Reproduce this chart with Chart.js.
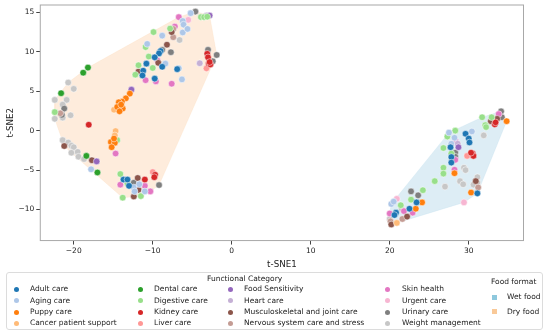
<!DOCTYPE html>
<html>
<head>
<meta charset="utf-8">
<script src="https://cdn.jsdelivr.net/npm/chart.js@4.4.1/dist/chart.umd.min.js"></script>
<style>
  html, body { margin: 0; padding: 0; background: #fff; }
  #wrap { position: relative; width: 550px; height: 333px; font-family: "DejaVu Sans", sans-serif; }
  #chart { position: absolute; left: 0; top: 0; }
  #legend {
    position: absolute; left: 6px; top: 272px; width: 537px; height: 58px;
    border: 1px solid #dcdcdc; border-radius: 3px; box-sizing: border-box;
    font-size: 7.5px; color: #222;
  }
  .ttl { position: absolute; white-space: nowrap; }
  .item { position: absolute; white-space: nowrap; line-height: 10px; }
  .dot { position: absolute; width: 5px; height: 5px; border-radius: 50%; box-shadow: 0 0 0 0.6px #fff; }
  .sq { position: absolute; width: 5px; height: 5px; }
</style>
</head>
<body>
<div id="wrap">
  <canvas id="chart" width="550" height="333"></canvas>
  <div id="legend"></div>
</div>
<script>
// ===========================
// DATOS
// ===========================
const categories = [
  "Adult care", "Aging care", "Puppy care", "Cancer patient support",
  "Dental care", "Digestive care", "Kidney care", "Liver care",
  "Food Sensitivity", "Heart care", "Musculoskeletal and joint care", "Nervous system care and stress",
  "Skin health", "Urgent care", "Urinary care", "Weight management"
];
const colors = [
  "#1f77b4", "#aec7e8", "#ff7f0e", "#ffbb78",
  "#2ca02c", "#98df8a", "#d62728", "#ff9896",
  "#9467bd", "#c5b0d5", "#8c564b", "#c49c94",
  "#e377c2", "#f7b6d2", "#7f7f7f", "#c7c7c7"
];
const formats = ["Wet food", "Dry food"];
const formatColors = ["#8ec8dd", "#f9c998"];
const hullColors = ["rgba(180,215,232,0.45)", "rgba(252,213,178,0.45)"];

const xTicks = [-20, -10, 0, 10, 20, 30];
const yTicks = [-10, -5, 0, 5, 10, 15];

// puntos t-SNE por categoría [x, y]
const adultCare = [[-9.0,10.1],[-9.2,9.8],[-9.75,9.3],[-10.8,8.5],[-8.8,8.1],[-11.2,7.6],[-11.3,7.0],[-9.75,6.6],[-6.9,7.8],
  [-13.7,-6.2],[-13.2,-6.2],[-13.0,-7.0],
  [29.6,-0.4],[30.0,-1.0],[30.1,-1.5],[27.7,-2.1],[27.8,-3.35],[27.8,-4.05],[31.1,-7.95],[23.4,-9.1],[22.5,-9.9],[20.8,-10.4],[20.6,-10.7]];
const agingCare = [[-5.2,14.9],[-6.2,13.9],[-6.1,13.45],[-6.2,12.45],[-5.6,12.9],[-8.8,12.05],[-10.7,11.0],[-8.4,8.5],[-6.7,7.9],[-6.3,6.5],
  [-12.4,-7.2],[-12.3,-7.7],[-11.0,-7.7],[-17.8,-4.9],[-11.7,-6.8],
  [27.5,-0.25],[28.2,-0.9],[27.8,-1.65],[20.2,-9.3],[20.5,-9.0],[30.4,-0.1]];
const puppyCare = [[-12.9,4.7],[-13.4,4.1],[-13.9,3.7],[-14.3,3.6],[-14.1,3.1],[-14.5,3.0],[-13.8,2.8],[-14.2,2.45],[-14.0,3.3],
  [-15.3,-1.45],[-14.8,-1.55],[-15.2,-2.1],[-14.9,-1.0],
  [34.8,1.2],[28.2,-5.4],[30.3,-7.85],[24.1,-9.1],[23.3,-9.9]];
const cancerSupport = [[-14.9,2.65],[-14.7,-0.05],[-14.8,-0.6],[20.9,-11.7]];
const dentalCare = [[-18.2,8.0],[-18.8,7.35],[-21.6,4.75],[-18.4,-3.2],[-17.0,-5.3]];
const digestiveCare = [[-3.9,14.4],[-3.5,14.4],[-3.1,14.45],[-7.8,12.95],[-9.9,12.5],[-10.9,10.6],[-10.5,9.4],[-11.8,8.3],[-10.0,7.95],[-12.2,7.1],
  [-22.4,2.35],[-14.5,-1.2],[-14.1,-5.5],[-13.2,-6.7],[-13.8,-8.5],[-11.5,-8.3],
  [31.7,1.7],[32.9,1.7],[32.1,0.7],[32.2,0.45],[28.3,0.0],[27.3,-0.75],[26.8,-2.2],[27.8,-2.9],[26.8,-4.7],[26.8,-5.45],[25.7,-6.4],[24.2,-7.55],[22.7,-8.75],[21.4,-9.45]];
const kidneyCare = [[-3.1,9.75],[-3.0,9.3],[-2.9,8.5],[-2.7,8.4],[-2.8,8.7],[-18.1,0.75],[-11.0,-6.2],[-9.7,-5.6],[-9.8,-5.9],
  [33.3,0.8],[33.4,1.05],[30.5,-2.9],[30.6,-3.2],[30.3,-2.8]];
const liverCare = [[-3.2,7.9],[-10.0,-5.25],[29.8,-3.2]];
const foodSensitivity = [[-2.8,14.6],[-12.7,5.2],[-17.1,-3.9],[28.7,-2.1]];
const heartCare = [[-4.05,8.55],[-3.2,14.6],[28.6,-1.65]];
const musculoskeletal = [[-7.6,12.5],[-8.2,10.9],[-9.3,8.6],[-11.8,7.5],[-17.7,-3.75],[-11.9,-6.0],[-11.8,-7.5],[-12.4,-8.35],[-21.2,-1.95],
  [33.6,1.5],[32.8,1.2],[30.9,-6.4],[20.2,-11.9],[22.2,-10.9]];
const nervousSystem = [[-7.4,12.9],[-7.4,11.85],[-21.7,2.2],[31.2,-7.2],[20.1,-11.5],[21.6,-11.2]];
const skinHealth = [[-6.7,14.4],[-7.2,13.2],[-9.4,8.9],[-10.9,6.4],[-9.6,6.25],[-7.6,5.95],[-14.7,-2.9],[-14.1,-6.85],[-11.0,-7.0],[-10.3,-7.7],
  [33.8,2.1],[28.3,-1.3],[28.3,-3.7],[28.2,-4.95],[20.0,-10.5],[21.8,-10.2],[22.9,-10.4]];
const urgentCare = [[-5.5,14.05],[29.4,-9.1],[20.9,-8.65]];
const urinaryCare = [[-4.6,15.1],[-8.8,10.25],[-7.7,9.95],[-3.0,10.25],[-1.9,9.6],[-2.4,8.8],[-21.2,2.8],[-21.5,2.0],[-12.4,-6.6],[-9.2,-6.9],
  [34.1,2.45],[34.2,1.7],[28.3,-2.8],[28.3,-3.3],[22.7,-7.7],[23.6,-8.2]];
const weightManagement = [[-6.6,11.5],[-20.7,6.1],[-20.0,5.3],[-22.4,3.9],[-20.9,3.9],[-21.4,3.3],[-20.4,1.95],[-22.4,1.5],[-21.4,1.65],
  [-21.4,-1.2],[-20.7,-1.5],[-20.3,-1.9],[-20.0,-2.1],[-20.3,-2.8],[-19.5,-2.7],[-19.4,-3.3],[-18.7,-3.6],
  [31.9,-0.6],[29.4,-4.7],[29.6,-5.0],[27.0,-7.1],[28.9,-6.4],[29.3,-6.8],[31.1,-5.9],[31.1,-6.6],[30.6,-6.85],[21.5,-9.9],[20.0,-11.2]];

const series = [adultCare, agingCare, puppyCare, cancerSupport, dentalCare, digestiveCare, kidneyCare, liverCare,
  foodSensitivity, heartCare, musculoskeletal, nervousSystem, skinHealth, urgentCare, urinaryCare, weightManagement];

// ===========================
// ENVOLVENTE CONVEXA
// ===========================
function convexHull(pts) {
  const p = pts.slice().sort((a, b) => a[0] - b[0] || a[1] - b[1]);
  const cross = (o, a, b) => (a[0] - o[0]) * (b[1] - o[1]) - (a[1] - o[1]) * (b[0] - o[0]);
  const lower = [], upper = [];
  for (const q of p) {
    while (lower.length >= 2 && cross(lower[lower.length - 2], lower[lower.length - 1], q) <= 0) lower.pop();
    lower.push(q);
  }
  for (let i = p.length - 1; i >= 0; i--) {
    const q = p[i];
    while (upper.length >= 2 && cross(upper[upper.length - 2], upper[upper.length - 1], q) <= 0) upper.pop();
    upper.push(q);
  }
  const hull = lower.slice(0, -1).concat(upper.slice(0, -1));
  hull.push(hull[0]);
  return hull;
}

const allPoints = series.flat();
// el formato húmedo queda en el grupo de la derecha
const wetPoints = allPoints.filter(p => p[0] > 10);
const dryPoints = allPoints.filter(p => p[0] <= 10);

const hullSets = [wetPoints, dryPoints].map((pts, i) => ({
  label: formats[i],
  data: convexHull(pts).map(p => ({ x: p[0], y: p[1] })),
  showLine: true,
  fill: "shape",
  backgroundColor: hullColors[i],
  borderColor: hullColors[i],
  borderWidth: 0.5,
  pointRadius: 0,
  tension: 0,
  order: 100
}));

const pointSets = series.map((pts, i) => ({
  label: categories[i],
  data: pts.map(p => ({ x: p[0], y: p[1] })),
  backgroundColor: colors[i],
  borderColor: "#ffffff",
  borderWidth: 0.5,
  pointRadius: 3.3,
  order: 1
}));

// ===========================
// GRÁFICO
// ===========================
Chart.defaults.font.family = "'DejaVu Sans', sans-serif";
Chart.defaults.font.size = 7.5;
Chart.defaults.color = "#222";

const frame = {
  id: "frame",
  afterDatasetsDraw(chart) {
    const { ctx, chartArea: a } = chart;
    ctx.save();
    ctx.strokeStyle = "#a8a8a8";
    ctx.lineWidth = 1;
    ctx.strokeRect(a.left + 0.5, a.top + 0.5, a.right - a.left - 1, a.bottom - a.top - 1);
    ctx.restore();
  }
};

new Chart(document.getElementById("chart"), {
  type: "scatter",
  data: { datasets: [...pointSets, ...hullSets] },
  plugins: [frame],
  options: {
    responsive: false,
    animation: false,
    layout: { padding: { left: 5.5, right: 26, top: 4, bottom: 63 } },
    plugins: { legend: { display: false }, tooltip: { enabled: false } },
    scales: {
      x: {
        min: -24.3, max: 37,
        afterBuildTicks: axis => { axis.ticks = xTicks.map(v => ({ value: v })); },
        ticks: { padding: 2, maxRotation: 0, callback: v => v < 0 ? "\u2212" + Math.abs(v) : v },
        grid: { display: true, drawOnChartArea: false, tickLength: 3.5, color: "#444" },
        border: { display: false },
        title: { display: true, text: "t-SNE1", font: { size: 8.7 }, padding: { top: 2, bottom: 0 } }
      },
      y: {
        min: -14, max: 16,
        afterBuildTicks: axis => { axis.ticks = yTicks.map(v => ({ value: v })); },
        afterFit: axis => { axis.paddingTop = 0; },
        ticks: { padding: 2, callback: v => v < 0 ? "\u2212" + Math.abs(v) : v },
        grid: { display: true, drawOnChartArea: false, tickLength: 3.5, color: "#444" },
        border: { display: false },
        title: { display: true, text: "t-SNE2", font: { size: 8.7 }, padding: { top: 0, bottom: 0.5 } }
      }
    }
  }
});

// ===========================
// LEYENDA (HTML)
// ===========================
const legend = document.getElementById("legend");
const colX = [[9, 23], [133, 147], [223, 237], [380, 395]];
const rowY = [16, 27.5, 39, 50];
legend.insertAdjacentHTML("beforeend", `<div class="ttl" style="left:200px;top:1px">Functional Category</div>`);
categories.forEach((name, i) => {
  const c = Math.floor(i / 4), r = i % 4;
  legend.insertAdjacentHTML("beforeend",
    `<div class="dot" style="left:${colX[c][0] - 2.5}px;top:${rowY[r] - 2.5}px;background:${colors[i]}"></div>` +
    `<div class="item" style="left:${colX[c][1]}px;top:${rowY[r] - 5}px">${name}</div>`);
});
legend.insertAdjacentHTML("beforeend", `<div class="ttl" style="left:484px;top:4px">Food format</div>`);
formats.forEach((name, i) => {
  const y = 24 + i * 14.5;
  legend.insertAdjacentHTML("beforeend",
    `<div class="sq" style="left:485px;top:${y - 2.5}px;background:${formatColors[i]}"></div>` +
    `<div class="item" style="left:500px;top:${y - 5}px">${name}</div>`);
});
</script>
</body>
</html>
